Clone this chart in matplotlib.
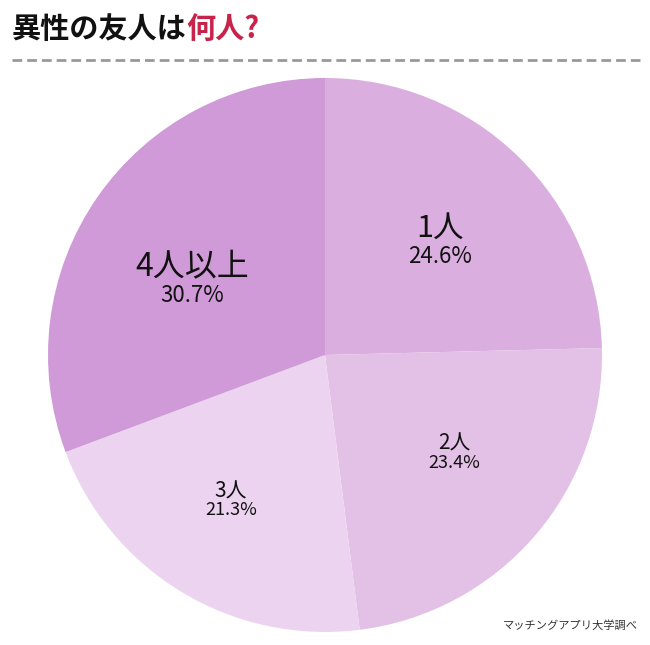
import matplotlib
matplotlib.use("Agg")
import matplotlib.pyplot as plt
from matplotlib.lines import Line2D

plt.rcParams['font.family'] = ['Noto Sans CJK JP', 'DejaVu Sans']

categories = ["1人", "2人", "3人", "4人以上"]
values = [24.6, 23.4, 21.3, 30.7]
colors = ["#dbaee0", "#e3c1e6", "#ecd4f0", "#d09ad8"]

fig = plt.figure(figsize=(6.5, 6.45), dpi=100)
W, H = 650, 645
ax = fig.add_axes([48 / W, 13 / H, 554 / W, 554 / H])
ax.pie(values, colors=colors, startangle=90, counterclock=False, radius=1,
       wedgeprops=dict(linewidth=0))
ax.set_xlim(-1, 1)
ax.set_ylim(-1, 1)
ax.set_aspect('equal')
ax.axis('off')

# label positions (name, pct) in data coords, with font sizes
label_pos = [((0.415, 0.458), (0.415, 0.354), 22, 16),
             ((0.466, -0.321), (0.466, -0.390), 15, 13),
             ((-0.34, -0.494), (-0.34, -0.56), 15, 13),
             ((-0.48, 0.318), (-0.48, 0.213), 23, 16)]
for cat, v, (p1, p2, fs1, fs2) in zip(categories, values, label_pos):
    ax.text(p1[0], p1[1], cat, ha='center', va='center', fontsize=fs1, color='#111111')
    ax.text(p2[0], p2[1], f"{v:.1f}%", ha='center', va='center', fontsize=fs2, color='#111111')

# title
t1 = fig.text(12 / W, 1 - 29 / H, "異性の友人は", fontsize=21, fontweight='bold',
              color='#111111', ha='left', va='center')
fig.canvas.draw()
bb = t1.get_window_extent()
fig.text(bb.x1 / W, 1 - 29 / H, "何人?", fontsize=21, fontweight='bold',
         color='#c8234a', ha='left', va='center')

# dashed line
fig.add_artist(Line2D([12 / W, 640 / W], [1 - 60 / H, 1 - 60 / H], transform=fig.transFigure,
                      color='#999999', linewidth=2, linestyle=(0, (3.5, 1.8))))

# source
fig.text(638 / W, 1 - 626 / H, "マッチングアプリ大学調べ", fontsize=8.1, color='#333333',
         ha='right', va='center')

fig.savefig("out.png", dpi=100, facecolor='white')
